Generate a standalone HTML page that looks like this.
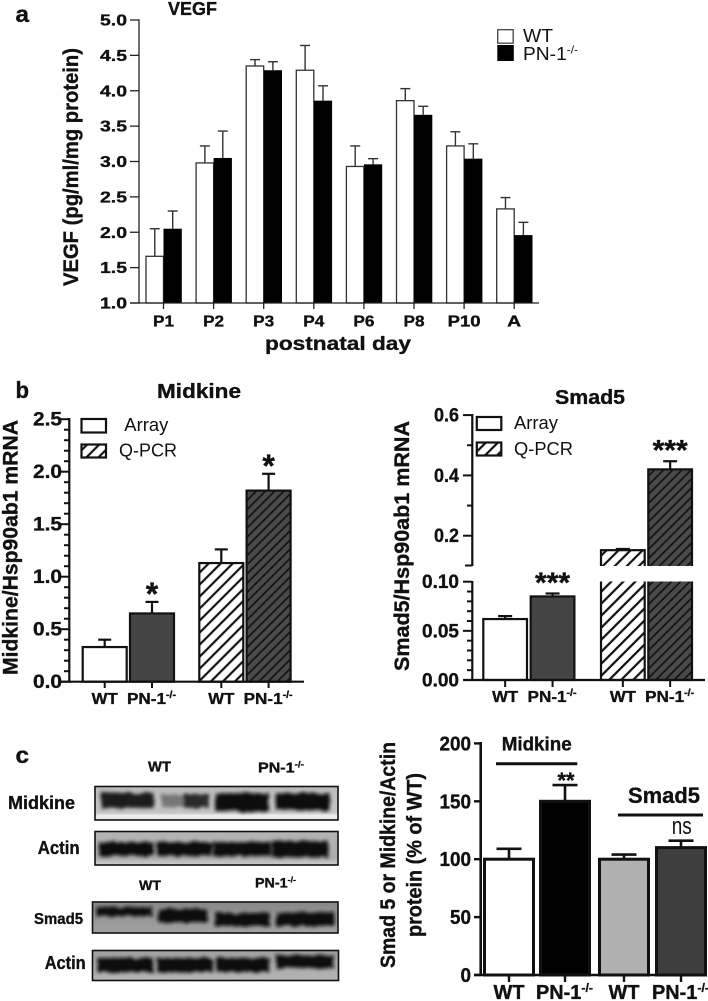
<!DOCTYPE html>
<html lang="en">
<head>
<meta charset="utf-8">
<title>VEGF, Midkine and Smad5 in WT and PN-1 knockout</title>
<style>
html,body{margin:0;padding:0;background:#fff;width:708px;height:1001px;overflow:hidden}
svg{display:block}
text{font-family:"Liberation Sans",Arial,sans-serif;fill:#111}
text[font-weight="bold"]{stroke:#111;stroke-width:.35px}
</style>
</head>
<body>
<svg id="fig" xmlns="http://www.w3.org/2000/svg" width="708" height="1001" viewBox="0 0 708 1001">
<defs>
<pattern id="hatchLight" width="8.5" height="8.5" patternUnits="userSpaceOnUse" patternTransform="rotate(45)">
<rect width="8.5" height="8.5" fill="#fff"/><line x1="2" y1="0" x2="2" y2="8.5" stroke="#111" stroke-width="2.2"/>
</pattern>
<pattern id="hatchDark" width="6.5" height="6.5" patternUnits="userSpaceOnUse" patternTransform="rotate(45)">
<rect width="6.5" height="6.5" fill="#4a4a4a"/><line x1="2" y1="0" x2="2" y2="6.5" stroke="#111" stroke-width="1.7"/>
</pattern>
<filter id="bandBlur" x="-20%" y="-80%" width="140%" height="260%">
<feTurbulence type="fractalNoise" baseFrequency="0.12" numOctaves="2" seed="4" result="n"/>
<feDisplacementMap in="SourceGraphic" in2="n" scale="5" result="d"/>
<feGaussianBlur in="d" stdDeviation="1.8"/>
</filter>
<linearGradient id="blotA" x1="0" y1="0" x2="0" y2="1"><stop offset="0" stop-color="#bcbcbc"/><stop offset=".78" stop-color="#c4c4c4"/><stop offset=".88" stop-color="#f2f2f2"/><stop offset="1" stop-color="#e0e0e0"/></linearGradient>
<linearGradient id="blotB" x1="0" y1="0" x2="0" y2="1"><stop offset="0" stop-color="#b4b4b4"/><stop offset=".8" stop-color="#acacac"/><stop offset="1" stop-color="#cfcfcf"/></linearGradient>
<linearGradient id="blotC" x1="0" y1="0" x2="0" y2="1"><stop offset="0" stop-color="#888"/><stop offset="1" stop-color="#a2a2a2"/></linearGradient>
<linearGradient id="blotD" x1="0" y1="0" x2="0" y2="1"><stop offset="0" stop-color="#a0a0a0"/><stop offset="1" stop-color="#b4b4b4"/></linearGradient>
</defs>

<g>
<rect x="95" y="786.5" width="243" height="33.5" fill="url(#blotA)"/>
<g filter="url(#bandBlur)" fill="#1c1c1c">
<rect x="101" y="793" width="53" height="15"/><rect x="162" y="795" width="22" height="12" fill="#777"/><rect x="184" y="794" width="25" height="14" fill="#2c2c2c"/><rect x="215" y="793" width="54" height="18" fill="#111"/><rect x="276" y="793" width="54" height="17" fill="#111"/>
</g>
<rect x="95" y="786.5" width="243" height="33.5" fill="none" stroke="#111" stroke-width="1.6"/>
</g>
<g>
<rect x="95" y="831.5" width="243" height="33.5" fill="url(#blotB)"/>
<g filter="url(#bandBlur)" fill="#0c0c0c">
<rect x="99" y="842" width="55" height="14"/><rect x="157" y="842" width="55" height="14"/><rect x="213" y="842" width="58" height="14"/><rect x="272" y="841" width="56" height="16"/>
</g>
<rect x="95" y="831.5" width="243" height="33.5" fill="none" stroke="#111" stroke-width="1.6"/>
</g>
<g>
<rect x="92.5" y="902" width="245.5" height="31" fill="url(#blotC)"/>
<g filter="url(#bandBlur)" fill="#0e0e0e">
<rect x="96" y="907" width="57" height="9"/><rect x="158" y="909" width="49" height="13"/><rect x="215" y="913" width="55" height="13"/><rect x="276" y="912" width="58" height="14"/>
</g>
<rect x="92.5" y="902" width="245.5" height="31" fill="none" stroke="#111" stroke-width="1.6"/>
</g>
<g>
<rect x="92.5" y="950.5" width="246" height="30" fill="url(#blotD)"/>
<g filter="url(#bandBlur)" fill="#0a0a0a">
<rect x="97" y="958" width="56" height="14"/><rect x="157" y="958" width="55" height="14"/><rect x="216" y="958" width="54" height="14"/><rect x="276" y="955" width="58" height="13"/>
</g>
<rect x="92.5" y="950.5" width="246" height="30" fill="none" stroke="#111" stroke-width="1.6"/>
</g>

<script>
/* ---------- Panel a: VEGF ---------- */
const vegfDays = ['P1','P2','P3','P4','P6','P8','P10','A'];
const vegfWT = [1.66,2.98,4.35,4.29,2.93,3.86,3.22,2.33];
const vegfKO = [2.05,3.05,4.29,3.86,2.96,3.66,3.04,1.96];
const vegfWTErr = [0.39,0.24,0.09,0.35,0.29,0.17,0.20,0.16];
const vegfKOErr = [0.25,0.38,0.12,0.21,0.08,0.12,0.21,0.18];
const vegfTicks = [1.0,1.5,2.0,2.5,3.0,3.5,4.0,4.5,5.0];

/* ---------- Panel b: Midkine mRNA ---------- */
const midkineLabels = ['WT','PN-1','WT','PN-1'];
const midkineValues = [0.33,0.65,1.13,1.82];
const midkineErr = [0.07,0.11,0.13,0.16];
const midkineStars = ['','*','','*'];
const midkineTicks = [0,0.5,1.0,1.5,2.0,2.5];

/* ---------- Panel b: Smad5 mRNA ---------- */
const smadLabels = ['WT','PN-1','WT','PN-1'];
const smadValues = [0.062,0.085,0.152,0.42];
const smadErr = [0.003,0.003,0.004,0.027];
const smadStars = ['','***','','***'];
const smadTicksLow = ['0.00','0.05','0.10'];
const smadTicksHigh = ['0.2','0.4','0.6'];

/* ---------- Panel c: protein quantification ---------- */
const proteinLabels = ['WT','PN-1','WT','PN-1'];
const proteinValues = [100,150,100,110];
const proteinErr = [9,14,4,6];
const proteinTicks = [0,50,100,150,200];

const svg = document.getElementById('fig');
const NS = 'http://www.w3.org/2000/svg';

function make(parent, tag, name, attrs) {
  const e = document.createElementNS(NS, tag);
  for (const k in attrs) e.setAttribute(k, attrs[k]);
  
  
  parent.appendChild(e);
  return e;
}
function group(name, parent) {
  return make(parent || svg, 'g', name, {});
}
function line(p, name, x1, y1, x2, y2, sw, col) {
  return make(p, 'line', name, {x1, y1, x2, y2, stroke: col || '#111', 'stroke-width': sw});
}
function rect(p, name, x, y, w, h, fill, stroke, sw) {
  return make(p, 'rect', name, {x, y, width: w, height: h, fill, stroke: stroke || 'none', 'stroke-width': sw || 0});
}
/* o: size, w (textLength), anchor, weight, rot, sup */
function label(p, name, x, y, str, o) {
  const a = {x, y, 'font-size': o.size, 'font-weight': o.weight || 'bold', 'text-anchor': o.anchor || 'start'};
  if (o.w) { a.textLength = o.w; a.lengthAdjust = 'spacingAndGlyphs'; }
  if (o.rot) a.transform = 'rotate(-90 ' + x + ' ' + y + ')';
  const t = make(p, 'text', name, a);
  t.textContent = str;
  if (o.sup) {
    const s = document.createElementNS(NS, 'tspan');
    s.setAttribute('dy', -o.size * 0.36);
    s.setAttribute('font-size', o.size * 0.62);
    s.textContent = '-/-';
    t.appendChild(s);
  }
  return t;
}
function errorBar(p, name, cx, y0, y1, cap, sw, col) {
  line(p, name + '-stem', cx, y0, cx, y1, sw, col);
  line(p, name + '-cap', cx - cap / 2, y1, cx + cap / 2, y1, sw, col);
}

/* ===== Panel a ===== */
(function () {
  const g = group('vegf-chart');
  const y = v => 303 - (v - 1) * 70.75;
  const x = i => 163.5 + i * 50.1;
  vegfDays.forEach((d, i) => {
    const c = x(i);
    errorBar(g, 'wt-error-' + d, c - 8.7, y(vegfWT[i]), y(vegfWT[i] + vegfWTErr[i]), 10, 1.4, '#333');
    errorBar(g, 'ko-error-' + d, c + 9.2, y(vegfKO[i]), y(vegfKO[i] + vegfKOErr[i]), 10, 1.4, '#333');
    rect(g, 'bar-wt-' + d, c - 17.5, y(vegfWT[i]), 17.5, 303 - y(vegfWT[i]), '#fff', '#333', 1.3);
    rect(g, 'bar-ko-' + d, c, y(vegfKO[i]), 18.3, 303 - y(vegfKO[i]), '#000');
    line(g, 'x-tick-' + d, c, 303, c, 309, 1.3, '#222');
    label(g, 'x-tick-label-' + d, c, 326.5, d, {size: 16, anchor: 'middle', w: d.length === 3 ? 33 : (d === 'A' ? 14 : 21)});
  });
  line(g, 'y-axis', 139, 19.4, 139, 303.6, 1.3, '#222');
  line(g, 'x-axis', 130, 303, 539, 303, 1.3, '#222');
  vegfTicks.forEach(t => {
    line(g, 'y-tick', 130, y(t), 139, y(t), 1.3, '#222');
    label(g, 'y-tick-label', 127, y(t) + 5.5, t.toFixed(1), {size: 16, anchor: 'end', w: 27});
  });
  label(g, 'y-axis-title', 78, 286, 'VEGF (pg/ml/mg protein)', {size: 21, rot: true, w: 238});
  label(g, 'x-axis-title', 265, 350, 'postnatal day', {size: 19, w: 146});
  label(g, 'chart-title', 168, 15, 'VEGF', {size: 18, w: 49});
  rect(g, 'legend-wt-swatch', 497.7, 29.7, 15.5, 13.5, '#fff', '#444', 1.3);
  rect(g, 'legend-ko-swatch', 497.3, 45, 16.5, 16, '#000');
  label(g, 'legend-wt-label', 523, 42, 'WT', {size: 18, weight: 'normal', w: 30});
  label(g, 'legend-ko-label', 523, 60, 'PN-1', {size: 18, weight: 'normal', sup: true, w: 55});
  label(g, 'panel-label-a', 15.5, 22, 'a', {size: 23, w: 13.5});
})();

/* ===== Panel b, Midkine ===== */
(function () {
  const g = group('midkine-chart');
  const y = v => 681.7 - v * 105;
  const barX = i => 82.7 + 47.3 * i + (i >= 2 ? 22 : 0);
  const bw = 44;
  const fills = ['#fff', '#444', 'url(#hatchLight)', 'url(#hatchDark)'];
  midkineValues.forEach((v, i) => {
    const c = barX(i) + bw / 2;
    errorBar(g, 'midkine-error-' + i, c, y(v), y(v + midkineErr[i]), 13, 2.2);
    rect(g, 'midkine-bar-' + i, barX(i), y(v), bw, 681.7 - y(v), fills[i], '#111', 2.2);
    line(g, 'x-tick', c, 681.7, c, 688, 2);
    const isKO = midkineLabels[i] !== 'WT';
    label(g, 'x-label-' + i, isKO ? c - 25 : c, 704, midkineLabels[i], {size: 16, anchor: isKO ? 'start' : 'middle', sup: isKO, w: isKO ? 49 : 26});
    if (midkineStars[i]) label(g, 'significance-' + i, c, y(v + midkineErr[i]) + 3, midkineStars[i], {size: 32, anchor: 'middle'});
  });
  line(g, 'y-axis', 69.3, 418, 69.3, 682.7, 2.2);
  line(g, 'x-axis', 60, 681.7, 304, 681.7, 2.2);
  for (let k = 0; k <= 25; k++) {
    const major = k % 5 === 0;
    line(g, major ? 'y-major-tick' : 'y-minor-tick', major ? 60 : 64, y(k / 10), 69.3, y(k / 10), 2);
  }
  midkineTicks.forEach(t => label(g, 'y-tick-label', 62, y(t) + 6.5, t.toFixed(1), {size: 19, anchor: 'end', w: 29}));
  label(g, 'y-axis-title', 17.5, 675, 'Midkine/Hsp90ab1 mRNA', {size: 21, rot: true, w: 255});
  label(g, 'chart-title', 157, 398, 'Midkine', {size: 20, w: 84});
  rect(g, 'legend-array-swatch', 81.5, 419, 24.5, 13.5, '#fff', '#111', 2.2);
  rect(g, 'legend-qpcr-swatch', 81.5, 444.5, 24.5, 13, 'url(#hatchLight)', '#111', 2.2);
  label(g, 'legend-array-label', 124.3, 431, 'Array', {size: 18, weight: 'normal', w: 44});
  label(g, 'legend-qpcr-label', 119, 456.7, 'Q-PCR', {size: 18, weight: 'normal', w: 58});
  label(g, 'panel-label-b', 15.5, 398, 'b', {size: 23, w: 13.5});
})();

/* ===== Panel b, Smad5 (broken axis) ===== */
(function () {
  const g = group('smad5-chart');
  const axX = 472.3, base = 680;
  const yLow = v => base - v * 983;
  const yHigh = v => 535.7 - (v - 0.2) * 301.5;
  const y = v => v <= 0.1 ? yLow(v) : yHigh(v);
  const barX = [483.3, 530.7, 601, 648.3];
  const bw = 43.7;
  const fills = ['#fff', '#444', 'url(#hatchLight)', 'url(#hatchDark)'];
  smadValues.forEach((v, i) => {
    const c = barX[i] + bw / 2;
    const top = y(v);
    errorBar(g, 'smad5-error-' + i, c, top, y(v + smadErr[i]), 14, 2.2);
    rect(g, 'smad5-bar-' + i, barX[i], top, bw, base - top, fills[i], '#111', 2.2);
    line(g, 'x-tick', c, base, c, base + 7, 2);
    const isKO = smadLabels[i] !== 'WT';
    label(g, 'x-label-' + i, isKO ? c - 25 : c, 702, smadLabels[i], {size: 16, anchor: isKO ? 'start' : 'middle', sup: isKO, w: isKO ? 49 : 26});
  });
  rect(g, 'axis-break-gap', 480, 566, 220, 15.5, '#fff');
  smadValues.forEach((v, i) => {
    if (smadStars[i]) label(g, 'significance-' + i, barX[i] + bw / 2, y(v + smadErr[i]) - 1, smadStars[i], {size: 29, anchor: 'middle', w: 35});
  });
  line(g, 'y-axis-upper', axX, 414, axX, 566, 2.2);
  line(g, 'y-axis-lower', axX, 581, axX, 681, 2.2);
  line(g, 'x-axis', 463, base, 705, base, 2.2);
  line(g, 'y-break-tick-upper', 465, 565.5, axX, 565.5, 2);
  smadTicksHigh.forEach(t => {
    const v = parseFloat(t);
    line(g, 'y-major-tick', 463, yHigh(v), axX, yHigh(v), 2);
    label(g, 'y-tick-label', 459, yHigh(v) + 6.5, t, {size: 19, anchor: 'end', w: 25});
  });
  [0.3, 0.5].forEach(v => line(g, 'y-minor-tick', 467, yHigh(v), axX, yHigh(v), 2));
  for (let k = 0; k <= 10; k++) {
    const major = k % 5 === 0;
    line(g, major ? 'y-major-tick' : 'y-minor-tick', major ? 463 : 467, yLow(k / 100), axX, yLow(k / 100), 2);
  }
  smadTicksLow.forEach(t => label(g, 'y-tick-label', 459, yLow(parseFloat(t)) + 6.5, t, {size: 19, anchor: 'end', w: 37}));
  label(g, 'y-axis-title', 409, 671, 'Smad5/Hsp90ab1 mRNA', {size: 21, rot: true, w: 250});
  label(g, 'chart-title', 555, 404, 'Smad5', {size: 20, w: 70});
  rect(g, 'legend-array-swatch', 476.8, 417, 24.5, 13, '#fff', '#111', 2.2);
  rect(g, 'legend-qpcr-swatch', 476.8, 442.5, 24.5, 13, 'url(#hatchLight)', '#111', 2.2);
  label(g, 'legend-array-label', 514, 429, 'Array', {size: 18, weight: 'normal', w: 44});
  label(g, 'legend-qpcr-label', 514, 455, 'Q-PCR', {size: 18, weight: 'normal', w: 59});
})();

/* ===== Panel c, blot labels ===== */
(function () {
  const g = group('blot-labels');
  label(g, 'panel-label-c', 15.5, 763, 'c', {size: 23, w: 13.5});
  label(g, 'blot-label-midkine', 8, 809, 'Midkine', {size: 18, w: 67});
  label(g, 'blot-label-actin', 37.7, 854, 'Actin', {size: 18, w: 42});
  label(g, 'blot-label-smad5', 34, 924, 'Smad5', {size: 16, w: 49});
  label(g, 'blot-label-actin-2', 44.7, 969, 'Actin', {size: 18, w: 41});
  label(g, 'blot-wt-label', 148, 771.7, 'WT', {size: 15, w: 23});
  label(g, 'blot-ko-label', 258, 772.7, 'PN-1', {size: 15, sup: true, w: 46});
  label(g, 'blot-wt-label-2', 139, 890, 'WT', {size: 14, w: 22});
  label(g, 'blot-ko-label-2', 255, 887.7, 'PN-1', {size: 14, sup: true, w: 41});
})();

/* ===== Panel c, protein chart ===== */
(function () {
  const g = group('protein-chart');
  const base = 975;
  const y = v => base - v * 1.158;
  const barX = [484.5, 540.5, 599.5, 656.5];
  const bw = 49;
  const fills = ['#fff', '#000', '#b0b0b0', '#3e3e3e'];
  proteinValues.forEach((v, i) => {
    const c = barX[i] + bw / 2;
    errorBar(g, 'protein-error-' + i, c, y(v), y(v + proteinErr[i]), 25, 2.6);
    rect(g, 'protein-bar-' + i, barX[i], y(v), bw, base - y(v), fills[i], '#111', 3);
    line(g, 'x-tick', c, base, c, base + 7, 2.4);
    const isKO = proteinLabels[i] !== 'WT';
    label(g, 'x-label-' + i, isKO ? c - 29 : c, 999, proteinLabels[i], {size: 20, anchor: isKO ? 'start' : 'middle', sup: isKO, w: isKO ? 57 : 31});
  });
  line(g, 'y-axis', 480.7, 742, 480.7, 976, 2.6);
  line(g, 'x-axis', 474, base, 707, base, 2.6);
  proteinTicks.forEach(t => {
    line(g, 'y-tick', 474, y(t), 480.7, y(t), 2.4);
    label(g, 'y-tick-label', 471, y(t) + 7, String(t), {size: 20, anchor: 'end', w: String(t).length * 10.5});
  });
  label(g, 'y-axis-title-line1', 395, 968, 'Smad 5 or Midkine/Actin', {size: 21, rot: true, w: 226});
  label(g, 'y-axis-title-line2', 421.7, 937, 'protein (% of WT)', {size: 21, rot: true, w: 164});
  line(g, 'midkine-bracket', 496, 763.7, 577.3, 763.7, 3);
  label(g, 'midkine-group-label', 501.7, 750.7, 'Midkine', {size: 19, w: 70});
  label(g, 'midkine-significance', 566, 788, '**', {size: 22, anchor: 'middle', w: 17});
  line(g, 'smad5-bracket', 618, 815, 703, 815, 3);
  label(g, 'smad5-group-label', 628, 803, 'Smad5', {size: 22, w: 72});
  label(g, 'smad5-significance', 671.7, 834, 'ns', {size: 24, weight: 'normal', w: 20});
})();
</script>
</svg>
</body>
</html>
